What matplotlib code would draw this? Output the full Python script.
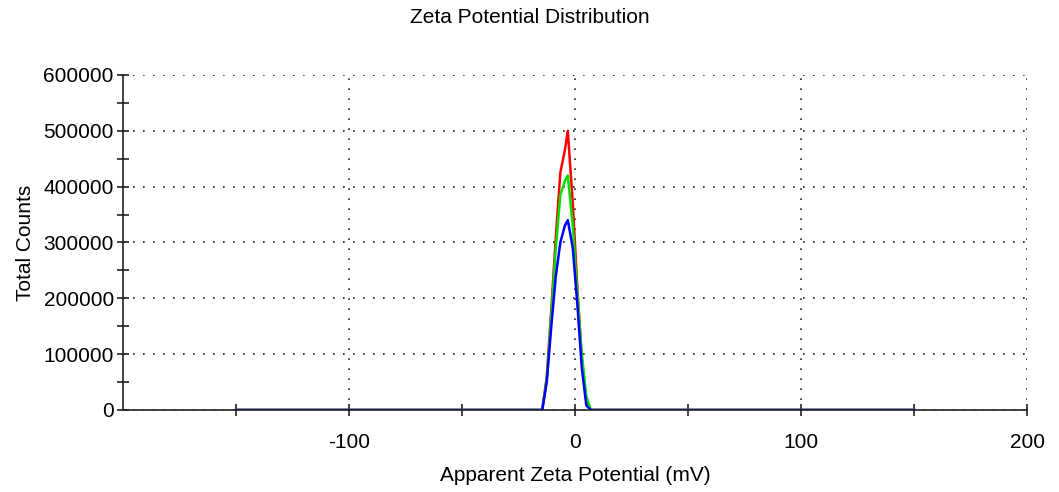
import matplotlib.pyplot as plt
from matplotlib.ticker import MultipleLocator, FixedLocator

plt.rcParams['font.family'] = ['Liberation Sans', 'DejaVu Sans']
plt.rcParams['axes.unicode_minus'] = False

# 測定データ (読み取り値)
zeta_mv = [-150, -14.5, -12.5, -10.5, -8.5, -6.5, -4.5, -3.2, -1, 1, 3, 5, 7, 150]
counts_red = [0, 0, 60000, 180000, 310000, 425000, 465000, 500000, 370000, 220000, 90000, 15000, 0, 0]
counts_green = [0, 0, 55000, 170000, 290000, 385000, 410000, 420000, 330000, 210000, 100000, 25000, 0, 0]
counts_blue = [0, 0, 50000, 150000, 240000, 300000, 330000, 340000, 290000, 190000, 75000, 8000, 0, 0]

x_labels = [-100, 0, 100, 200]
y_labels = [0, 100000, 200000, 300000, 400000, 500000, 600000]


fig = plt.figure(figsize=(10.59, 4.92), dpi=100)
ax = fig.add_axes([0.116, 0.1667, 0.854, 0.681])

ax.plot(zeta_mv, counts_red, color='#ff0000', lw=1.8)
ax.plot(zeta_mv, counts_green, color='#00e000', lw=1.8)
ax.plot(zeta_mv, counts_blue, color='#0000ff', lw=1.8)

ax.set_xlim(-200, 200)
ax.set_ylim(0, 600000)

ax.xaxis.set_major_locator(FixedLocator(x_labels))
ax.xaxis.set_minor_locator(FixedLocator([-150, -50, 50, 150]))
ax.yaxis.set_major_locator(FixedLocator(y_labels))
ax.yaxis.set_minor_locator(MultipleLocator(50000))

ax.grid(True, which='major', linestyle=(0, (1, 5)), color='#222222', lw=1.2)

for side in ['top', 'right']:
    ax.spines[side].set_visible(False)
for side in ['left', 'bottom']:
    ax.spines[side].set_color('#222222')
    ax.spines[side].set_linewidth(1.2)

ax.tick_params(which='both', direction='inout', length=9, width=1.2, color='#222222', labelsize=15)
ax.tick_params(axis='x', pad=12)
ax.tick_params(axis='y', pad=2)

ax.set_xlabel('Apparent Zeta Potential (mV)', fontsize=15, labelpad=10)
ax.set_ylabel('Total Counts', fontsize=15, labelpad=6)
fig.text(0.5, 0.965, 'Zeta Potential Distribution', ha='center', va='center', fontsize=15)

plt.savefig('out.png', dpi=100)
